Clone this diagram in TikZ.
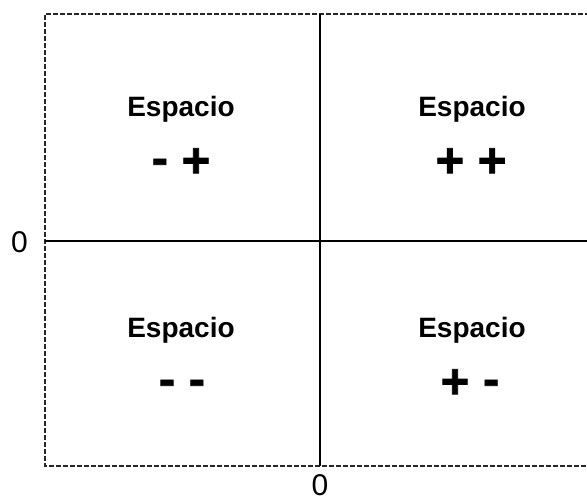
\documentclass[tikz,border=0pt]{standalone}
\usepackage{fontspec}
\setmainfont{Liberation Sans}
\newfontfamily\signfont{Liberation Sans Bold}[FakeBold=1.5]
\newcommand{\hy}{\raisebox{2.5pt}{-}}
\begin{document}
\begin{tikzpicture}[x=1pt,y=-1pt,
  frame/.style={line width=2.6pt, dash pattern=on 5pt off 2pt, black!85},
  axis/.style={line width=2.8pt, black},
  title/.style={font=\fontsize{28}{32}\selectfont\bfseries, anchor=base, inner sep=0pt},
  signs/.style={font=\fontsize{49}{52}\selectfont\signfont, anchor=base, inner sep=0pt},
  zero/.style={font=\fontsize{30}{34}\selectfont, inner sep=0pt}]
\useasboundingbox (0,0) rectangle (587,502);
\coordinate (tl) at (45,14);
\coordinate (tr) at (590,14);
\coordinate (bl) at (45,466);
\coordinate (br) at (590,466);
\coordinate (vt) at (320,14);
\coordinate (vb) at (320,466);
\coordinate (hl) at (45,241);
\coordinate (hr) at (590,241);
\draw[frame] (tr) -- (tl) -- (bl) -- (br);
\draw[axis] (vt) -- (vb);
\draw[axis] (hl) -- (hr);
\node[zero] (z1) at (19.5,242) {0};
\node[zero] (z2) at (320,485) {0};
\node[title] (t1) at (181,117) {Espacio};
\node[signs] (s1) at (181,177) {\hy{} +};
\node[title] (t2) at (472,117) {Espacio};
\node[signs] (s2) at (471,177) {+ +};
\node[title] (t3) at (181,338) {Espacio};
\node[signs] (s3) at (182,398) {\hy{} \hy};
\node[title] (t4) at (472,338) {Espacio};
\node[signs] (s4) at (470,398) {+ \hy};
\end{tikzpicture}
\end{document}
